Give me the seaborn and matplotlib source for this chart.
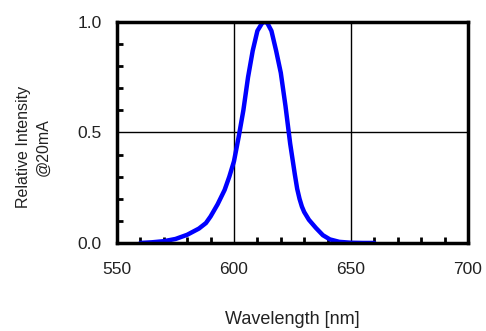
import numpy as np
import pandas as pd
import matplotlib
matplotlib.use("Agg")
import matplotlib.pyplot as plt
import seaborn as sns
from matplotlib.ticker import MultipleLocator

# -----------------------------
# Data
# -----------------------------

wavelength = [560, 565, 570, 575, 580, 585, 588, 590, 593, 596, 598,
              600, 602, 604, 606, 608, 610, 612, 613, 614, 616,
              618, 620, 622, 624, 626, 627, 628, 629, 630, 632, 635, 638,
              641, 645, 650, 655, 660]
intensity = [0.0, 0.003, 0.008, 0.018, 0.037, 0.065, 0.09, 0.12, 0.175, 0.24, 0.30,
             0.37, 0.48, 0.60, 0.75, 0.87, 0.96, 0.995, 1.0, 1.0, 0.96,
             0.87, 0.77, 0.62, 0.45, 0.31, 0.245, 0.2, 0.165, 0.14, 0.105, 0.068, 0.035,
             0.016, 0.005, 0.001, 0.0, 0.0]

x_ticks = [550, 600, 650, 700]
y_ticks = [0.0, 0.5, 1.0]

df = pd.DataFrame({"wavelength": wavelength, "intensity": intensity})

sns.set_style("white")
plt.rcParams["font.family"] = ["Liberation Sans", "DejaVu Sans"]

fig = plt.figure(figsize=(4.86, 3.31), dpi=100)
ax = fig.add_axes([0.2407, 0.266, 0.7223, 0.6675])

sns.lineplot(
    data=df,
    x="wavelength",
    y="intensity",
    color="#0000ff",
    linewidth=3.2,
    ax=ax
)

ax.set_xlim(550, 700)
ax.set_ylim(0, 1.0)
ax.set_xticks(x_ticks)
ax.set_yticks(y_ticks)
ax.set_xticklabels([str(t) for t in x_ticks])
ax.set_yticklabels([f"{t:.1f}" for t in y_ticks])
ax.xaxis.set_minor_locator(MultipleLocator(10))
ax.yaxis.set_minor_locator(MultipleLocator(0.1))

# grid at inner major positions
for xv in [600, 650]:
    ax.axvline(xv, color="black", linewidth=1.0, zorder=1)
ax.axhline(0.5, color="black", linewidth=1.0, zorder=1)

ax.tick_params(axis="both", which="major", length=0, labelsize=12.5,
               labelcolor="#222222")
ax.tick_params(axis="x", which="major", pad=14)
ax.tick_params(axis="y", which="major", pad=11)
ax.tick_params(axis="both", which="minor", direction="in", length=4,
               width=2, color="black")
ax.tick_params(bottom=True, left=True, which="minor")

for s in ax.spines.values():
    s.set_color("black")
    s.set_linewidth(2.5)
    s.set_visible(True)

ax.set_xlabel("")
ax.set_ylabel("")

fig.text(0.6019, 0.035, "Wavelength [nm]", ha="center", va="center",
         fontsize=13, color="#222222")
fig.text(0.068, 0.555, "Relative Intensity\n@20mA", ha="center", va="center",
         rotation=90, fontsize=11.5, color="#222222", linespacing=1.35)

fig.savefig("out.png", dpi=100)
